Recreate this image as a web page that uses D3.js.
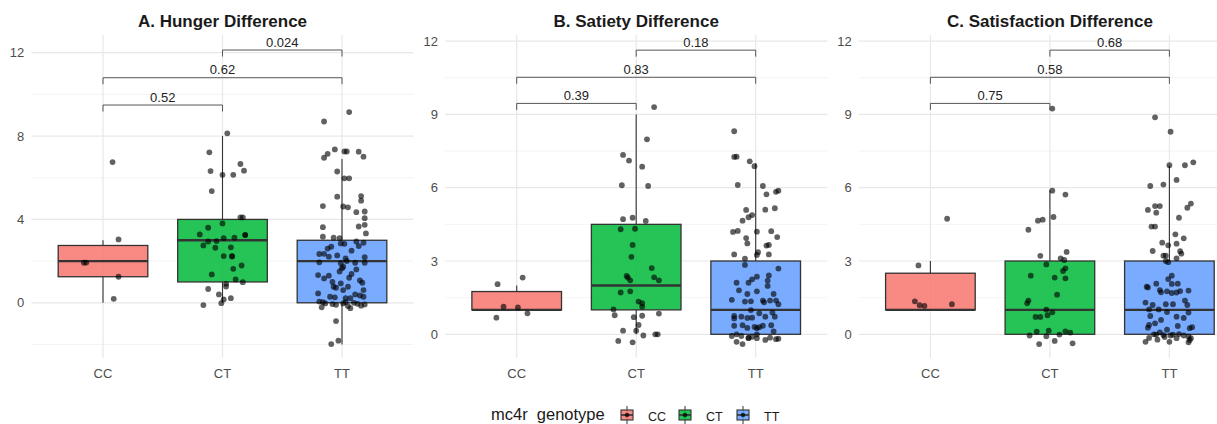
<!DOCTYPE html>
<html lang="en">
<head>
<meta charset="UTF-8">
<title>mc4r genotype differences</title>
<script src="https://d3js.org/d3.v7.min.js"></script>
<style>
  body { margin: 0; background: #fff; font-family: "Liberation Sans", Arial, sans-serif; }
  svg { display: block; }
</style>
</head>
<body>
<div id="chart"></div>
<script>
// ---- data ----
const genotypes = ["CC", "CT", "TT"];
const genotypeColors = ["#F8766D", "#00BA38", "#619CFF"];
const panelTitles = ["A. Hunger Difference", "B. Satiety Difference", "C. Satisfaction Difference"];

const yDomains = [[-2.65, 12.85], [-0.97, 12.25], [-0.97, 12.25]];
const yTicks = [[0, 4, 8, 12], [0, 3, 6, 9, 12], [0, 3, 6, 9, 12]];
const yMinorTicks = [[-2, 2, 6, 10], [1.5, 4.5, 7.5, 10.5], [1.5, 4.5, 7.5, 10.5]];

// box stats per genotype: [lower whisker, q1, median, q3, upper whisker]
const hungerBoxes = [[0, 1.25, 2, 2.75, 3], [0, 1, 3, 4, 8], [-2, 0, 2, 3, 6.9]];
const satietyBoxes = [[1, 1, 1, 1.75, 2], [0, 1, 2, 4.5, 9], [0, 0, 1, 3, 7]];
const satisfactionBoxes = [[1, 1, 1, 2.5, 3], [0, 0, 1, 3, 5.9], [0, 0, 1, 3, 6.9]];

// pairwise comparisons (ggsignif style)
const comparisons = [["CC", "CT"], ["CC", "TT"], ["CT", "TT"]];
const hungerP = ["0.52", "0.62", "0.024"];
const satietyP = ["0.39", "0.83", "0.18"];
const satisfactionP = ["0.75", "0.58", "0.68"];
const hungerBracketY = [9.49, 10.8, 12.13];
const satietyBracketY = [9.45, 10.52, 11.63];
const satisfactionBracketY = [9.45, 10.52, 11.63];

// jittered points: [horizontal jitter (fraction of category step), value]
const hungerCC = [[0.08, 6.75], [0.13, 3.04], [-0.16, 1.92], [-0.14, 1.93], [0.13, 1.25], [0.09, 0.19]];
const hungerCT = [[0.04, 8.13], [-0.11, 7.22], [-0.10, 6.32], [0.00, 6.14], [0.09, 6.14], [0.15, 6.66], [0.18, 6.34],
  [-0.09, 5.36], [0.15, 4.10], [0.17, 4.10], [-0.12, 3.60], [0.00, 3.81], [-0.19, 3.28], [-0.12, 2.94], [-0.05, 2.96],
  [0.01, 3.10], [0.10, 3.12], [0.19, 3.26], [0.19, 3.25], [-0.16, 2.75], [-0.06, 2.64], [0.07, 2.66], [0.01, 2.24],
  [0.08, 2.24], [0.08, 2.22], [0.09, 1.63], [0.16, 1.79], [-0.09, 1.36], [0.11, 1.12], [0.17, 0.99], [0.03, 0.91],
  [0.03, 0.78], [-0.12, 0.66], [-0.03, 0.40], [0.01, 0.16], [-0.01, -0.02], [0.07, 0.22], [-0.16, -0.11]];
const hungerTT = [[0.06, 9.15], [-0.15, 8.70], [-0.06, 7.36], [-0.12, 7.15], [-0.15, 6.96], [0.02, 7.26], [0.04, 7.26],
  [0.14, 7.25], [0.18, 7.01], [-0.04, 6.30], [0.02, 5.97], [0.06, 5.97], [-0.04, 5.09], [0.16, 5.12], [0.16, 4.90],
  [-0.16, 4.64], [0.01, 4.62], [0.05, 4.58], [0.12, 4.35], [0.19, 4.38], [0.19, 4.06], [0.19, 3.74], [0.14, 3.66],
  [-0.16, 3.63], [0.20, 3.33], [-0.16, 3.17], [-0.07, 3.12], [-0.02, 3.10], [0.02, 2.83], [-0.01, 2.85], [-0.09, 2.69],
  [0.12, 2.94], [0.14, 2.72], [0.18, 2.88], [-0.19, 2.34], [-0.15, 2.35], [-0.11, 2.21], [-0.04, 2.27], [0.03, 2.13],
  [0.04, 2.00], [-0.19, 1.94], [-0.01, 1.90], [0.11, 1.92], [0.19, 2.19], [0.19, 1.92], [0.00, 1.66], [0.01, 1.73],
  [0.08, 1.38], [-0.20, 1.33], [-0.15, 1.17], [-0.11, 1.30], [-0.01, 0.93], [-0.07, 0.77], [-0.05, 0.72], [0.05, 0.77],
  [0.15, 1.07], [0.17, 0.96], [0.01, 0.61], [0.18, 0.61], [-0.20, 0.45], [-0.10, 0.29], [-0.06, 0.26], [0.03, 0.22],
  [0.07, 0.22], [0.11, 0.40], [0.15, 0.35], [0.18, 0.29], [-0.19, 0.06], [-0.16, 0.03], [-0.14, -0.03], [-0.08, -0.06],
  [-0.05, -0.10], [0.01, -0.03], [0.03, 0.03], [0.05, -0.16], [0.07, -0.26], [0.10, 0.00], [0.13, -0.05], [0.16, -0.14],
  [0.19, -0.08], [-0.17, -0.22], [-0.05, -0.88], [-0.03, -1.82], [-0.09, -1.98], [-0.12, 2.60], [0.08, 2.50],
  [-0.02, 1.50], [0.12, 1.60], [-0.08, 1.00], [0.06, 1.20]];

const satietyCC = [[-0.16, 2.05], [0.05, 2.32], [-0.11, 1.13], [0.01, 1.10], [0.09, 0.86], [-0.17, 0.68]];
const satietyCT = [[0.15, 9.30], [0.09, 7.98], [-0.11, 7.34], [-0.06, 7.11], [0.05, 6.86], [-0.12, 6.10], [0.10, 6.07],
  [-0.11, 4.71], [-0.03, 4.77], [0.08, 4.64], [-0.13, 4.30], [-0.01, 4.32], [-0.03, 3.66], [-0.04, 3.17], [0.13, 2.71],
  [-0.08, 2.39], [-0.07, 2.32], [-0.05, 2.21], [0.15, 2.33], [0.19, 2.21], [-0.13, 1.71], [-0.05, 1.76], [0.02, 1.34],
  [0.05, 1.27], [0.05, 1.13], [-0.19, 1.02], [-0.18, 0.78], [-0.02, 0.70], [0.05, 0.76], [0.19, 0.85], [0.02, 0.38],
  [-0.11, 0.15], [0.00, 0.15], [0.06, -0.05], [0.16, 0.00], [0.18, 0.00], [-0.15, -0.27], [-0.03, -0.33]];
const satietyTT = [[-0.18, 8.31], [-0.18, 7.26], [-0.16, 7.27], [-0.05, 7.08], [-0.01, 6.88], [-0.15, 6.11], [0.06, 6.07],
  [0.09, 5.73], [0.17, 5.83], [0.19, 5.88], [-0.08, 5.09], [-0.03, 4.88], [-0.06, 4.79], [-0.11, 4.65], [0.08, 5.10],
  [0.16, 5.16], [-0.19, 4.19], [-0.15, 4.23], [-0.08, 3.94], [-0.07, 3.72], [0.01, 4.20], [0.13, 4.22], [0.18, 3.98],
  [0.09, 3.63], [0.11, 3.66], [0.02, 3.36], [0.01, 3.25], [-0.18, 3.27], [-0.09, 3.10], [0.11, 3.27], [-0.09, 2.84],
  [0.01, 2.36], [0.19, 2.69], [-0.03, 2.25], [0.11, 2.41], [-0.06, 2.11], [-0.16, 2.11], [-0.14, 1.80], [-0.07, 1.65],
  [0.01, 1.76], [0.10, 1.98], [0.15, 1.65], [0.10, 2.20], [-0.20, 1.41], [-0.09, 1.34], [-0.04, 1.35], [-0.04, 0.99],
  [0.06, 1.38], [0.07, 1.31], [0.12, 1.38], [0.17, 1.38], [0.19, 1.23], [-0.18, 0.75], [-0.18, 0.65], [-0.12, 0.72],
  [-0.07, 0.67], [-0.03, 0.68], [0.03, 0.86], [0.08, 0.72], [0.14, 0.89], [0.16, 0.72], [-0.18, 0.35], [-0.11, 0.37],
  [-0.07, 0.26], [-0.01, 0.30], [0.01, 0.25], [0.03, 0.29], [0.06, 0.35], [0.13, 0.37], [0.15, 0.12], [-0.20, -0.07],
  [-0.16, 0.00], [-0.12, -0.07], [-0.06, -0.14], [-0.03, -0.10], [0.01, -0.16], [0.08, -0.23], [0.12, -0.14],
  [0.17, -0.20], [0.19, -0.18], [-0.16, -0.31], [-0.11, -0.40], [0.01, 0.00], [-0.06, -0.16]];

const satisfactionCC = [[0.14, 4.73], [-0.10, 2.82], [-0.13, 1.35], [-0.09, 1.19], [-0.05, 1.16], [0.18, 1.23]];
const satisfactionCT = [[0.02, 9.24], [0.02, 5.88], [0.13, 5.72], [-0.18, 4.28], [-0.10, 4.65], [-0.06, 4.69], [0.03, 4.80],
  [-0.08, 3.21], [0.09, 3.11], [0.12, 3.04], [0.14, 3.37], [-0.03, 2.86], [0.13, 2.70], [0.11, 2.59], [0.13, 2.29],
  [-0.16, 2.40], [0.04, 2.32], [0.06, 1.62], [-0.18, 1.38], [-0.19, 1.27], [-0.03, 1.01], [0.02, 0.90], [-0.02, 0.78],
  [-0.12, 0.71], [-0.08, 0.71], [-0.11, 0.11], [-0.01, 0.15], [0.13, 0.12], [0.17, 0.07], [-0.17, -0.05], [-0.03, -0.08],
  [0.08, -0.01], [-0.09, -0.40], [0.04, -0.27], [0.19, -0.37]];
const satisfactionTT = [[-0.12, 8.88], [0.01, 8.29], [0.00, 6.92], [0.13, 6.92], [0.20, 7.04], [0.06, 6.32], [-0.16, 6.07],
  [-0.05, 6.13], [-0.12, 5.25], [-0.08, 5.25], [-0.18, 5.09], [-0.11, 4.98], [0.15, 5.18], [0.18, 5.35], [0.08, 4.77],
  [-0.15, 4.41], [-0.12, 4.41], [0.05, 4.09], [0.12, 3.93], [-0.06, 3.75], [-0.01, 3.64], [0.06, 3.71], [-0.14, 3.41],
  [0.09, 3.40], [0.10, 3.30], [-0.05, 3.22], [-0.03, 3.22], [0.06, 3.11], [-0.03, 3.00], [-0.01, 2.95], [0.02, 2.40],
  [-0.01, 2.26], [-0.18, 1.92], [-0.19, 1.95], [-0.11, 2.07], [-0.08, 1.81], [-0.07, 1.72], [-0.02, 1.76], [0.02, 1.69],
  [0.02, 2.06], [0.07, 2.07], [0.06, 1.71], [0.09, 1.77], [0.16, 1.79], [-0.20, 1.30], [-0.14, 1.20], [-0.03, 1.23],
  [0.03, 1.23], [0.13, 1.38], [0.15, 1.20], [-0.17, 1.02], [-0.16, 0.75], [-0.09, 1.02], [-0.02, 0.91], [0.06, 0.72],
  [0.12, 0.67], [0.16, 0.89], [-0.17, 0.38], [-0.18, 0.27], [-0.12, 0.45], [-0.07, 0.59], [-0.02, 0.19], [0.07, 0.34],
  [0.17, 0.25], [0.19, 0.29], [-0.13, 0.00], [-0.11, -0.01], [-0.08, 0.08], [-0.05, -0.03], [0.01, -0.05], [0.03, -0.01],
  [0.08, 0.01], [0.12, -0.05], [0.16, -0.10], [-0.17, -0.15], [-0.20, -0.31], [-0.10, -0.22], [-0.04, -0.11],
  [0.00, -0.31], [0.06, -0.16], [0.16, -0.33], [0.17, -0.23], [0.18, -0.16]];

// ---- assemble panels ----
const panels = [
  {title: panelTitles[0], boxes: hungerBoxes, points: [hungerCC, hungerCT, hungerTT], p: hungerP, bracketY: hungerBracketY},
  {title: panelTitles[1], boxes: satietyBoxes, points: [satietyCC, satietyCT, satietyTT], p: satietyP, bracketY: satietyBracketY},
  {title: panelTitles[2], boxes: satisfactionBoxes, points: [satisfactionCC, satisfactionCT, satisfactionTT], p: satisfactionP, bracketY: satisfactionBracketY}
];

const width = 1217, height = 424;
const panelLeft = 31.3, panelStep = 413.7, panelWidth = 382.4;
const panelTop = 35, panelBottom = 358;
const textColor = "#4d4d4d";

const svg = d3.select("#chart").append("svg")
  .attr("width", width)
  .attr("height", height)
  .style("font-family", "'Liberation Sans', Arial, sans-serif");

const color = d3.scaleOrdinal().domain(genotypes).range(genotypeColors);

panels.forEach((panel, i) => {
  const left = panelLeft + i * panelStep;
  const right = left + panelWidth;
  const x = d3.scalePoint().domain(genotypes).range([left, right]).padding(0.6);
  const y = d3.scaleLinear().domain(yDomains[i]).range([panelBottom, panelTop]);
  const step = x.step();
  const g = svg.append("g");

  // grid
  g.selectAll(".minor").data(yMinorTicks[i]).enter().append("line")
    .attr("x1", left).attr("x2", right)
    .attr("y1", d => y(d)).attr("y2", d => y(d))
    .attr("stroke", "#efefef").attr("stroke-width", 0.7);
  g.selectAll(".major").data(yTicks[i]).enter().append("line")
    .attr("x1", left).attr("x2", right)
    .attr("y1", d => y(d)).attr("y2", d => y(d))
    .attr("stroke", "#e8e8e8").attr("stroke-width", 1.2);
  g.selectAll(".vmajor").data(genotypes).enter().append("line")
    .attr("x1", d => x(d)).attr("x2", d => x(d))
    .attr("y1", panelTop).attr("y2", panelBottom)
    .attr("stroke", "#e8e8e8").attr("stroke-width", 1.2);

  // y tick labels
  g.selectAll(".ylab").data(yTicks[i]).enter().append("text")
    .attr("x", left - 7).attr("y", d => y(d))
    .attr("dy", "0.35em")
    .attr("text-anchor", "end")
    .attr("font-size", 13).attr("fill", textColor)
    .text(d => d);

  // x tick labels
  g.selectAll(".xlab").data(genotypes).enter().append("text")
    .attr("x", d => x(d)).attr("y", panelBottom + 20)
    .attr("text-anchor", "middle")
    .attr("font-size", 13).attr("fill", textColor)
    .text(d => d);

  // boxplots
  const boxW = step * 0.75;
  genotypes.forEach((gt, j) => {
    const [lo, q1, med, q3, hi] = panel.boxes[j];
    const cx = x(gt);
    g.append("line").attr("x1", cx).attr("x2", cx).attr("y1", y(q3)).attr("y2", y(hi))
      .attr("stroke", "#333").attr("stroke-width", 1.1);
    g.append("line").attr("x1", cx).attr("x2", cx).attr("y1", y(q1)).attr("y2", y(lo))
      .attr("stroke", "#333").attr("stroke-width", 1.1);
    g.append("rect")
      .attr("x", cx - boxW / 2).attr("width", boxW)
      .attr("y", y(q3)).attr("height", Math.max(0, y(q1) - y(q3)))
      .attr("fill", color(gt)).attr("fill-opacity", 0.85)
      .attr("stroke", "#333").attr("stroke-width", 1.3);
    g.append("line").attr("x1", cx - boxW / 2).attr("x2", cx + boxW / 2)
      .attr("y1", y(med)).attr("y2", y(med))
      .attr("stroke", "#333").attr("stroke-width", 2.4);
  });

  // jittered points
  genotypes.forEach((gt, j) => {
    g.selectAll(null).data(panel.points[j]).enter().append("circle")
      .attr("cx", d => x(gt) + d[0] * step)
      .attr("cy", d => y(d[1]))
      .attr("r", 2.9)
      .attr("fill", "#000").attr("fill-opacity", 0.62);
  });

  // significance brackets
  const tip = 6.5;
  comparisons.forEach((pair, k) => {
    const x1 = x(pair[0]), x2 = x(pair[1]), by = y(panel.bracketY[k]);
    g.append("path")
      .attr("d", `M${x1},${by + tip}V${by}H${x2}V${by + tip}`)
      .attr("fill", "none").attr("stroke", "#555").attr("stroke-width", 1);
    g.append("text")
      .attr("x", (x1 + x2) / 2).attr("y", by - 3.5)
      .attr("text-anchor", "middle")
      .attr("font-size", 13).attr("fill", "#222")
      .text(panel.p[k]);
  });

  // title
  g.append("text")
    .attr("x", (left + right) / 2).attr("y", 26.5)
    .attr("text-anchor", "middle")
    .attr("font-size", 17).attr("font-weight", "bold").attr("fill", "#1a1a1a")
    .text(panel.title);
});

// ---- legend ----
const legend = svg.append("g");
legend.append("text")
  .attr("x", 491).attr("y", 420)
  .attr("font-size", 16.5).attr("fill", "#1a1a1a")
  .style("white-space", "pre")
  .text("mc4r  genotype");

const keys = legend.selectAll(".key").data(genotypes).enter().append("g")
  .attr("transform", (d, i) => `translate(${621 + i * 58},0)`);
keys.append("line").attr("x1", 6).attr("x2", 6).attr("y1", 406).attr("y2", 424)
  .attr("stroke", "#333").attr("stroke-width", 1);
keys.append("rect").attr("x", 0).attr("y", 410).attr("width", 12).attr("height", 10)
  .attr("fill", d => color(d)).attr("fill-opacity", 0.85)
  .attr("stroke", "#333").attr("stroke-width", 1.1);
keys.append("line").attr("x1", 0).attr("x2", 12).attr("y1", 415).attr("y2", 415)
  .attr("stroke", "#333").attr("stroke-width", 1.6);
keys.append("circle").attr("cx", 6).attr("cy", 415).attr("r", 2.3)
  .attr("fill", "#000").attr("fill-opacity", 0.7);
keys.append("text").attr("x", 27).attr("y", 420.5)
  .attr("font-size", 12.5).attr("fill", "#1a1a1a")
  .text(d => d);
</script>
</body>
</html>
